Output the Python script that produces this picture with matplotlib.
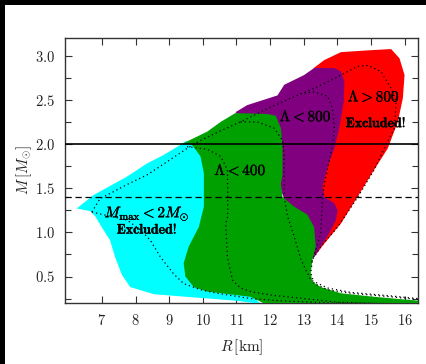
import matplotlib
matplotlib.use("Agg")
import matplotlib.pyplot as plt
import matplotlib.patheffects as pe
from matplotlib.patches import Polygon, Rectangle
from matplotlib.ticker import MultipleLocator, FuncFormatter

plt.rcParams['mathtext.fontset'] = 'cm'
plt.rcParams['font.family'] = ['cmr10', 'DejaVu Serif']
plt.rcParams['axes.formatter.use_mathtext'] = True

# ---- data (R [km], M [Msun]) ----
red_R = [13.3, 13.61, 14.11, 14.91, 15.6, 15.85, 16.0, 15.95, 15.8, 15.5, 15.1, 14.6, 14.11, 13.61, 13.31, 13.2, 13.5]
red_M = [2.86, 2.95, 3.04, 3.06, 3.075, 2.97, 2.78, 2.52, 2.25, 1.95, 1.71, 1.40, 1.10, 0.87, 0.72, 1.5, 2.5]

purple_R = [10.97, 11.32, 12.22, 12.42, 13.01, 13.31, 13.91, 14.11, 14.21, 14.19, 14.06, 13.91, 13.71, 13.56,
            13.61, 13.91, 14.01, 13.96, 13.76, 13.51, 13.31, 12.8, 12.0, 11.5]
purple_M = [2.36, 2.44, 2.55, 2.67, 2.78, 2.86, 2.86, 2.82, 2.71, 2.48, 2.18, 1.95, 1.74, 1.52,
            1.40, 1.33, 1.25, 1.14, 0.99, 0.84, 0.72, 1.0, 1.8, 2.2]

green_R = [9.43, 10.13, 10.53, 10.97, 11.92, 12.17, 12.32, 12.37, 12.37, 12.32, 12.37, 12.72, 13.11, 13.31,
           13.36, 13.26, 13.21, 13.26, 13.51, 14.11, 15.1, 16.6, 16.6, 11.8, 11.8, 11.42, 10.13, 9.73,
           9.48, 9.43, 9.58, 9.88, 10.03, 10.03, 9.93, 9.68]
green_M = [2.01, 2.14, 2.25, 2.35, 2.34, 2.32, 2.18, 1.99, 1.65, 1.55, 1.40, 1.29, 1.20, 1.06,
           0.84, 0.69, 0.54, 0.44, 0.38, 0.31, 0.27, 0.22, 0.1, 0.1, 0.2, 0.27, 0.33, 0.38,
           0.50, 0.65, 0.84, 1.06, 1.29, 1.67, 1.86, 1.99]

cyan_R = [6.25, 6.74, 7.74, 8.34, 8.83, 9.33, 9.48, 10.4, 11.0, 11.8, 11.7, 11.0, 10.2, 9.5, 8.54, 7.84,
          7.59, 7.39, 7.24, 6.99, 6.80, 6.65]
cyan_M = [1.27, 1.42, 1.63, 1.78, 1.875, 1.99, 2.03, 2.0, 0.5, 0.15, 0.19, 0.225, 0.25, 0.27, 0.30, 0.38,
          0.52, 0.72, 0.91, 1.06, 1.18, 1.24]

# dotted curves
curveA_R = [6.70, 7.04, 7.74, 8.14, 8.44, 8.74, 9.13, 9.43, 9.93, 10.43, 11.42, 12.5, 14.0, 16.4]
curveA_M = [1.23, 1.20, 1.14, 1.03, 0.91, 0.72, 0.53, 0.42, 0.35, 0.31, 0.25, 0.22, 0.20, 0.19]

curveB_R = [6.70, 6.94, 7.74, 8.34, 8.94, 9.53, 9.93, 10.53, 11.12, 11.92, 12.62, 13.31, 14.01, 14.61, 14.91,
            15.3, 15.6, 15.75, 15.7, 15.4, 15.1, 14.61, 14.01, 13.51, 13.26, 13.21, 13.31, 13.71, 14.41, 15.6, 16.4]
curveB_M = [1.23, 1.38, 1.54, 1.65, 1.80, 1.95, 2.04, 2.15, 2.25, 2.40, 2.52, 2.63, 2.76, 2.88, 2.89,
            2.82, 2.63, 2.48, 2.18, 1.95, 1.71, 1.40, 1.06, 0.84, 0.69, 0.54, 0.42, 0.35, 0.31, 0.27, 0.24]

curveC1_R = [9.53, 10.13, 10.53, 10.73, 10.74, 10.74, 10.68, 10.73, 10.88, 11.12, 11.42, 12.02, 13.01, 14.0, 16.4]
curveC1_M = [1.97, 1.94, 1.86, 1.71, 1.48, 1.18, 1.10, 0.72, 0.46, 0.37, 0.33, 0.29, 0.25, 0.21, 0.18]

curveC2_R = [11.12, 11.62, 12.12, 12.37, 12.42, 12.42, 12.52, 12.72, 12.92, 13.21, 13.71, 14.41, 15.6, 16.4]
curveC2_M = [2.25, 2.25, 2.18, 2.04, 1.86, 1.40, 1.18, 0.95, 0.69, 0.46, 0.37, 0.32, 0.28, 0.25]

curveC3_R = [12.9, 13.31, 13.71, 13.86, 13.91, 13.86, 13.61, 13.56, 13.51, 13.36, 13.23]
curveC3_M = [2.57, 2.59, 2.54, 2.40, 2.18, 1.99, 1.54, 1.40, 0.99, 0.80, 0.65]

x_ticks = [7, 8, 9, 10, 11, 12, 13, 14, 15, 16]
y_ticks = [0.5, 1.0, 1.5, 2.0, 2.5, 3.0]
M_max_line = 2.0
M_dash_line = 1.4

fig = plt.figure(figsize=(4.27, 3.64), dpi=100, facecolor='white')
fig.patches.append(Rectangle((0, 0), 5/427, 1, transform=fig.transFigure,
                             facecolor='black', edgecolor='none', zorder=10))
fig.patches.append(Rectangle((0, 1 - 5/364), 1, 5/364, transform=fig.transFigure,
                             facecolor='black', edgecolor='none', zorder=10))
ax = fig.add_axes([65/427, 1 - 303/364, 353/427, 265/364])

ax.add_patch(Polygon(list(zip(red_R, red_M)), closed=True, facecolor='#ff0000', edgecolor='none', zorder=1))
ax.add_patch(Polygon(list(zip(purple_R, purple_M)), closed=True, facecolor='#800080', edgecolor='none', zorder=2))
ax.add_patch(Polygon(list(zip(cyan_R, cyan_M)), closed=True, facecolor='#00ffff', edgecolor='none', zorder=3))
ax.add_patch(Polygon(list(zip(green_R, green_M)), closed=True, facecolor='#00a000', edgecolor='none', zorder=4))

for R, M in [(curveA_R, curveA_M), (curveB_R, curveB_M), (curveC1_R, curveC1_M),
             (curveC2_R, curveC2_M), (curveC3_R, curveC3_M)]:
    ax.plot(R, M, linestyle=(0, (1, 2.4)), color='black', lw=0.9, zorder=5)

ax.axhline(M_max_line, color='black', lw=1.2, zorder=6)
ax.axhline(M_dash_line, color='black', lw=0.9, ls=(0, (5, 3)), zorder=6)

bold = [pe.withStroke(linewidth=0.25, foreground='black')]
fs = 11
kw = dict(ha='center', va='center', zorder=7, path_effects=bold)
ax.text(15.09, 2.53, r'$\mathbf{\Lambda > 800}$', fontsize=fs, **kw)
ax.text(15.15, 2.23, r'$\mathbf{Excluded!}$', fontsize=10, **kw)
ax.text(13.06, 2.31, r'$\mathbf{\Lambda < 800}$', fontsize=fs, **kw)
ax.text(11.12, 1.70, r'$\mathbf{\Lambda < 400}$', fontsize=fs, **kw)
ax.text(8.34, 1.21, r'$M_{\rm max} < \mathbf{2}M_{\odot}$', fontsize=11, **kw)
ax.text(8.34, 1.025, r'$\mathbf{Excluded!}$', fontsize=10, **kw)

ax.set_xlim(5.9, 16.4)
ax.set_ylim(0.2, 3.2)
ax.set_xticks(x_ticks)
ax.set_yticks(y_ticks)
ax.yaxis.set_minor_locator(MultipleLocator(0.25))
ax.xaxis.set_major_formatter(FuncFormatter(lambda v, p: r'$%d$' % v))
ax.yaxis.set_major_formatter(FuncFormatter(lambda v, p: r'$%.1f$' % v))
ax.tick_params(which='both', direction='in', top=True, right=True, labelsize=10.5,
               labelcolor='#222222', color='#333333')
ax.tick_params(which='major', length=5, width=0.8, pad=7)
ax.tick_params(which='minor', length=4, width=0.8)
for s in ax.spines.values():
    s.set_color('#333333')
    s.set_linewidth(1.0)

ax.set_xlabel(r'$R\,[\mathrm{km}]$', fontsize=11, color='#222222', labelpad=7)
ax.set_ylabel(r'$M\,[M_{\odot}]$', fontsize=11, color='#222222', labelpad=1)

fig.savefig('out.png', dpi=100, facecolor='white')
